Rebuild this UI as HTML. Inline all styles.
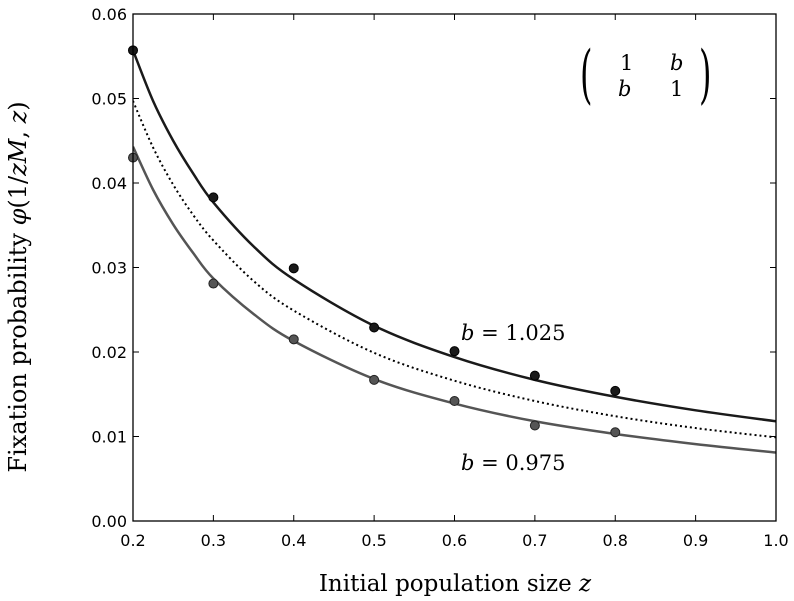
<!DOCTYPE html>
<html><head><meta charset="utf-8">
<style>
html,body{margin:0;padding:0;background:#fff;}
svg{display:block;}
.tick{font-family:"DejaVu Sans","Liberation Sans",sans-serif;font-size:16px;fill:#000;}
.ser{font-family:"DejaVu Serif","Liberation Serif",serif;fill:#000;}
</style></head>
<body>
<svg id="chart" width="794" height="601" viewBox="0 0 794 601"></svg>
<script>
const curveX = [0.2,0.225,0.25,0.275,0.3,0.35,0.4,0.5,0.6,0.7,0.8,0.9,1.0];
const upperCurve = [0.0557,0.0497,0.0450,0.0411,0.0377,0.0325,0.0286,0.0231,0.0194,0.0167,0.0147,0.0131,0.0118];
const middleCurve = [0.0497,0.0442,0.0398,0.0362,0.0332,0.0284,0.0249,0.0199,0.0166,0.0142,0.0124,0.0110,0.0099];
const lowerCurve = [0.0443,0.0392,0.0351,0.0317,0.0287,0.0245,0.0213,0.0168,0.0139,0.0118,0.0103,0.0091,0.0081];
const pointX = [0.2,0.3,0.4,0.5,0.6,0.7,0.8];
const upperPoints = [0.0557,0.0383,0.0299,0.0229,0.0201,0.0172,0.0154];
const lowerPoints = [0.0430,0.0281,0.0215,0.0167,0.0142,0.0113,0.0105];
const xTicks = [0.2,0.3,0.4,0.5,0.6,0.7,0.8,0.9,1.0];
const xTickLabels = ["0.2","0.3","0.4","0.5","0.6","0.7","0.8","0.9","1.0"];
const yTicks = [0,0.01,0.02,0.03,0.04,0.05,0.06];
const yTickLabels = ["0.00","0.01","0.02","0.03","0.04","0.05","0.06"];

const L=133,R=776,T=14,B=521;
const sx=v=>L+(v-0.2)/0.8*(R-L);
const sy=v=>B-v/0.06*(B-T);
const svg=document.getElementById('chart');
const NS='http://www.w3.org/2000/svg';
function mk(tag,attrs,parent){const e=document.createElementNS(NS,tag);for(const k in attrs)e.setAttribute(k,attrs[k]);(parent||svg).appendChild(e);return e;}

function pathFor(xs,ys){
  const p=xs.map((x,i)=>[sx(x),sy(ys[i])]);
  let d='M'+p[0][0]+','+p[0][1];
  for(let i=0;i<p.length-1;i++){
    const p0=p[i-1]||p[i],p1=p[i],p2=p[i+1],p3=p[i+2]||p2;
    const c1=[p1[0]+(p2[0]-p0[0])/6,p1[1]+(p2[1]-p0[1])/6];
    const c2=[p2[0]-(p3[0]-p1[0])/6,p2[1]-(p3[1]-p1[1])/6];
    d+=' C'+c1+' '+c2+' '+p2;
  }
  return d;
}

xTicks.forEach((v,i)=>{
  const t=mk('line',{x1:sx(v),x2:sx(v),y1:B,y2:B-6,stroke:'#000','stroke-width':1});
  
  
  const t2=mk('line',{x1:sx(v),x2:sx(v),y1:T,y2:T+6,stroke:'#000','stroke-width':1});
  
  
  const l=mk('text',{x:sx(v),y:B+25,'text-anchor':'middle',class:'tick'});
  l.textContent=xTickLabels[i];
  
  
});
yTicks.forEach((v,i)=>{
  const t=mk('line',{x1:L,x2:L+6,y1:sy(v),y2:sy(v),stroke:'#000','stroke-width':1});
  
  
  const t2=mk('line',{x1:R,x2:R-6,y1:sy(v),y2:sy(v),stroke:'#000','stroke-width':1});
  
  
  const l=mk('text',{x:L-6,y:sy(v)+6,'text-anchor':'end',class:'tick'});
  l.textContent=yTickLabels[i];
  
  
});

const clip=mk('clipPath',{id:'pc'});mk('rect',{x:L,y:T,width:R-L,height:B-T},clip);

const c1=mk('path',{d:pathFor(curveX,upperCurve),fill:'none',stroke:'#1a1a1a','stroke-width':2.5,'clip-path':'url(#pc)'});


const c2=mk('path',{d:pathFor(curveX,middleCurve),fill:'none',stroke:'#000','stroke-width':2,'stroke-dasharray':'2,3','clip-path':'url(#pc)'});


const c3=mk('path',{d:pathFor(curveX,lowerCurve),fill:'none',stroke:'#555','stroke-width':2.5,'clip-path':'url(#pc)'});



pointX.forEach((x,i)=>{
  const a=mk('circle',{cx:sx(x),cy:sy(upperPoints[i]),r:4.5,fill:'#1a1a1a',stroke:'#000','stroke-width':1});
  
  
  const b=mk('circle',{cx:sx(x),cy:sy(lowerPoints[i]),r:4.5,fill:'#555',stroke:'#222','stroke-width':1});
  
  
});

const fr=mk('rect',{x:L,y:T,width:R-L,height:B-T,fill:'none',stroke:'#000','stroke-width':1.3});


</script>
<svg width="794" height="601" style="position:absolute;left:0;top:0">
  <text class="ser" x="455" y="591" font-size="23" text-anchor="middle">Initial population size <tspan font-style="italic">z</tspan></text>
  <text class="ser" transform="translate(26,287) rotate(-90)" font-size="24" text-anchor="middle">Fixation probability <tspan font-style="italic">φ</tspan>(1/<tspan font-style="italic">zM</tspan>, <tspan font-style="italic">z</tspan>)</text>
  <text class="ser" x="461" y="340" font-size="21"><tspan font-style="italic">b</tspan> = 1.025</text>
  <text class="ser" x="461" y="470" font-size="21"><tspan font-style="italic">b</tspan> = 0.975</text>
  <g>
    <text class="ser" x="0" y="0" font-size="40" font-weight="lighter" transform="translate(580,96) scale(0.8,1.6)">(</text>
    <text class="ser" x="0" y="0" font-size="40" font-weight="lighter" transform="translate(699,96) scale(0.8,1.6)">)</text>
    <text class="ser" x="620" y="70" font-size="21">1</text>
    <text class="ser" x="670" y="70" font-size="21" font-style="italic">b</text>
    <text class="ser" x="618" y="96" font-size="21" font-style="italic">b</text>
    <text class="ser" x="670" y="96" font-size="21">1</text>
  </g>
</svg>
</body></html>
